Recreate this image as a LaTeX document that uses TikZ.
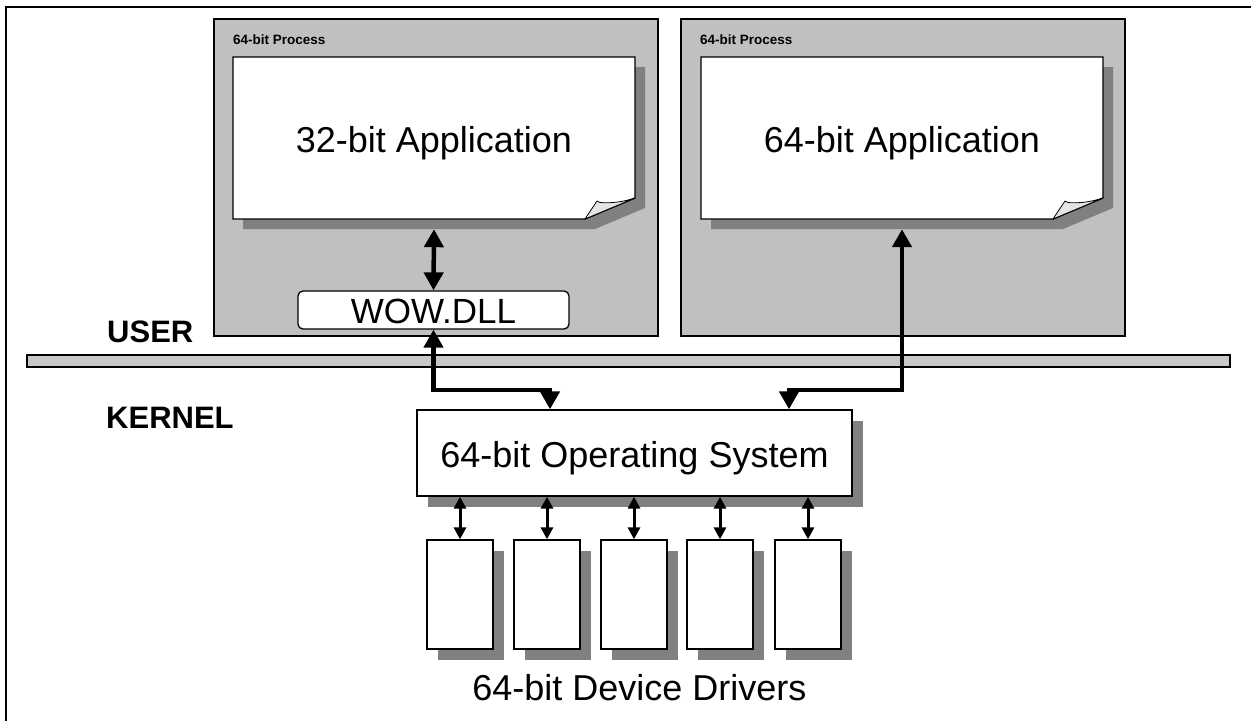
\documentclass[tikz,border=0pt]{standalone}
\usepackage{fontspec}
\setmainfont{Liberation Sans}
\usetikzlibrary{arrows.meta,shadows}
\definecolor{procgray}{RGB}{192,192,192}
\definecolor{shadowgray}{RGB}{128,128,128}
\definecolor{bargray}{RGB}{200,200,200}
\definecolor{flapgray}{RGB}{228,228,228}
\newcommand\foldpaper[4]{%
  \fill[shadowgray] ({#1+10},{#2+10}) -- ({#3+10},{#2+10}) -- ({#3+10},{#4-11}) -- ({#3-40},{#4+10}) -- ({#1+10},{#4+10}) -- cycle;
  \draw[fill=white, line width=1.4pt] (#1,#2) -- (#3,#2) -- (#3,{#4-21}) -- ({#3-50},#4) -- (#1,#4) -- cycle;
  \draw[fill=flapgray, line width=0.8pt, line join=round] ({#3-50},#4) -- ({#3-38},{#4-18}) -- ({#3-35},{#4-16.5}) .. controls ({#3-25},{#4-15.5}) and ({#3-12},{#4-17}) .. (#3,{#4-21}) -- cycle;
}
\begin{document}
\begin{tikzpicture}[x=1pt,y=-1pt,
  proc/.style={draw=black, fill=procgray, line width=1.6pt, inner sep=0, minimum width=444, minimum height=317},
  proclabel/.style={anchor=base west, font=\bfseries\fontsize{13.5}{16}\selectfont, inner sep=0},
  apptext/.style={inner sep=0, minimum width=402, minimum height=162, font=\fontsize{36}{40}\selectfont, text height=34pt, text depth=6pt},
  wowbox/.style={draw=black, fill=white, line width=1.3pt, rounded corners=5pt, inner sep=0, minimum width=271, minimum height=34, font=\fontsize{35}{40}\selectfont, text height=32pt, text depth=6pt},
  osbox/.style={draw=black, fill=white, line width=1.3pt, inner sep=0, minimum width=435, minimum height=86, font=\fontsize{36}{40}\selectfont, text height=34pt, text depth=6pt,
    drop shadow={shadow xshift=11pt, shadow yshift=-11pt, fill=shadowgray, opacity=1}},
  drvbox/.style={draw=black, fill=white, line width=1.3pt, inner sep=0, minimum width=66, minimum height=109,
    drop shadow={shadow xshift=11pt, shadow yshift=-11pt, fill=shadowgray, opacity=1}},
  layerlabel/.style={anchor=base west, font=\bfseries\fontsize{31}{34}\selectfont, inner sep=0},
  bigtip/.tip={Triangle[width=19pt,length=18pt]},
  smalltip/.tip={Triangle[width=12pt,length=12pt]},
  bigarr/.style={line width=4.5pt, bigtip-bigtip},
  smallarr/.style={line width=3pt, smalltip-smalltip},
]
\useasboundingbox (0,0) rectangle (1251,721);
\fill[white] (0,0) rectangle (1251,721);
\draw[line width=2.2pt] (6,721) -- (6,7) -- (1251,7);

% process boxes
\node[proc] (proc1) at (436,177.5) {};
\node[proc] (proc2) at (903,177.5) {};
\node[proclabel] (plabel1) at (233,44) {64-bit Process};
\node[proclabel] (plabel2) at (700,44) {64-bit Process};

% application papers
\foldpaper{233}{57}{635}{219}
\foldpaper{701}{57}{1103}{219}
\node[apptext] (app32) at (434,138) {32-bit Application};
\node[apptext] (app64) at (902,138) {64-bit Application};
\coordinate (app32s) at ([yshift=-10pt]app32.south);
\coordinate (app64s) at ([yshift=-10pt]app64.south);

% WOW.DLL
\node[wowbox] (wow) at (433.5,310) {WOW.DLL};

% user/kernel bar
\node[draw=black, fill=bargray, line width=1.2pt, inner sep=0, minimum width=1203, minimum height=12] (bar) at (628.5,361) {};
\node[layerlabel] (user) at (107,342) {USER};
\node[layerlabel] (kernel) at (106,428) {KERNEL};

% operating system
\node[osbox] (os) at (634.5,453) {64-bit Operating System};

% drivers
\node[drvbox] (d1) at (460,594.5) {};
\node[drvbox] (d2) at (547,594.5) {};
\node[drvbox] (d3) at (634,594.5) {};
\node[drvbox] (d4) at (720,594.5) {};
\node[drvbox] (d5) at (808,594.5) {};
\node[anchor=base, inner sep=0, font=\fontsize{36}{40}\selectfont] (drvlabel) at (639.5,700) {64-bit Device Drivers};

% connectors
\coordinate (cl) at (550,390);
\coordinate (cr) at (789,390);
\draw[bigarr] (app32s) -- (wow.north);
\draw[bigarr] (wow.south) |- (cl) -- (cl |- os.north);
\draw[bigarr] (app64s) |- (cr) -- (cr |- os.north);
\foreach \d in {d1,d2,d3,d4,d5}{
  \draw[smallarr] (\d.north |- os.south) -- (\d.north);
}
\end{tikzpicture}
\end{document}
